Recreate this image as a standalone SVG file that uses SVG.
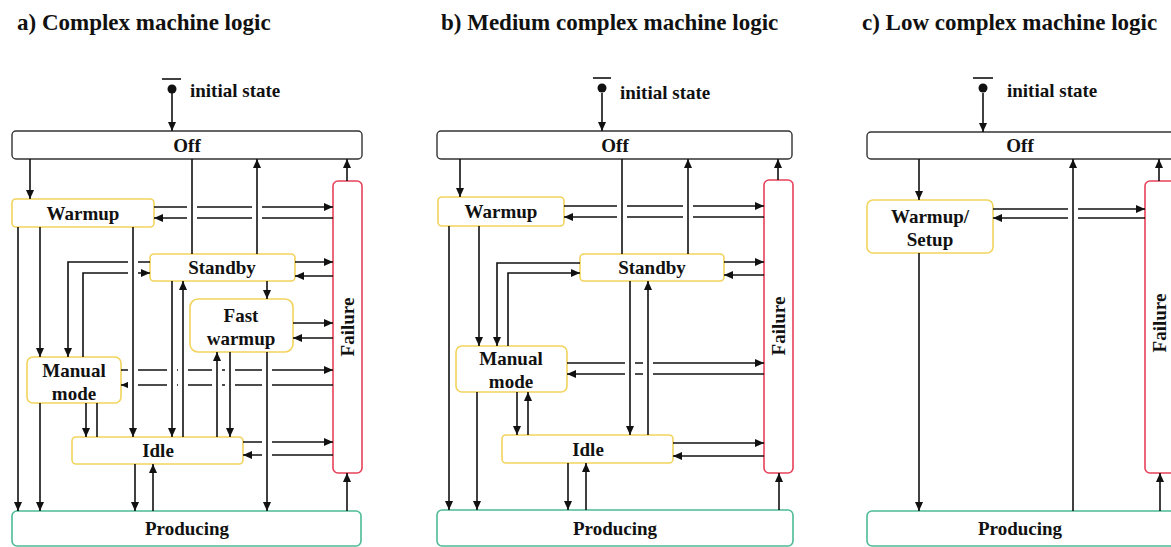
<svg xmlns="http://www.w3.org/2000/svg" width="1171" height="547" viewBox="0 0 1171 547">
<style>
text{font-family:"Liberation Serif","Times New Roman",serif;font-weight:bold;fill:#111}
.title{font-size:23px}
.lbl{font-size:19px;text-anchor:middle}
.init{font-size:19px}
.off{fill:#fff;stroke:#333;stroke-width:1.4}
.ylw{fill:#fff;stroke:#f2d35c;stroke-width:1.6}
.red{fill:#fff;stroke:#e8415a;stroke-width:1.6}
.grn{fill:#fff;stroke:#4dbb97;stroke-width:1.6}
.c{fill:none;stroke:#111;stroke-width:1.6}
.a{marker-end:url(#ah)}
.h{fill:none;stroke:#fff;stroke-width:10}
</style>
<defs>
<marker id="ah" markerUnits="userSpaceOnUse" markerWidth="10" markerHeight="9" refX="9" refY="4" orient="auto">
<path d="M0,0 L9,4 L0,8 z" fill="#111"/>
</marker>
</defs>
<rect width="1171" height="547" fill="#fff"/>
<text class="title" x="17" y="30">a) Complex machine logic</text>
<text class="title" x="441" y="30">b) Medium complex machine logic</text>
<text class="title" x="862" y="30">c) Low complex machine logic</text>

<!-- Panel a nodes -->
<g id="a-initial">
<line x1="162" y1="79" x2="181" y2="79" class="c"/>
<circle cx="172" cy="89" r="4.5" fill="#111"/>
<text class="init" x="190" y="97">initial state</text>
</g>
<g id="a-off"><rect class="off" x="12" y="131" width="350" height="28" rx="4"/><text class="lbl" x="187" y="152">Off</text></g>
<g id="a-warmup"><rect class="ylw" x="12" y="199" width="142" height="28" rx="4"/><text class="lbl" x="83" y="220">Warmup</text></g>
<g id="a-standby"><rect class="ylw" x="150" y="254" width="145" height="27" rx="4"/><text class="lbl" x="222" y="274">Standby</text></g>
<g id="a-fastwarmup"><rect class="ylw" x="190" y="299" width="103" height="53" rx="8"/><text class="lbl" x="241" y="322">Fast</text><text class="lbl" x="241" y="345">warmup</text></g>
<g id="a-manual"><rect class="ylw" x="27" y="357" width="94" height="46" rx="6"/><text class="lbl" x="74" y="377">Manual</text><text class="lbl" x="74" y="400">mode</text></g>
<g id="a-idle"><rect class="ylw" x="72" y="437" width="171" height="27" rx="4"/><text class="lbl" x="158" y="457">Idle</text></g>
<g id="a-producing"><rect class="grn" x="12" y="511" width="349" height="35" rx="5"/><text class="lbl" x="187" y="535">Producing</text></g>
<g id="a-failure"><rect class="red" x="333" y="181" width="29" height="292" rx="5"/><text class="lbl" transform="translate(354,327) rotate(-90)">Failure</text></g>

<!-- Panel b nodes -->
<g id="b-initial">
<line x1="593" y1="78" x2="611" y2="78" class="c"/>
<circle cx="602" cy="88" r="4.5" fill="#111"/>
<text class="init" x="620" y="99">initial state</text>
</g>
<g id="b-off"><rect class="off" x="437" y="131" width="355" height="28" rx="4"/><text class="lbl" x="615" y="152">Off</text></g>
<g id="b-warmup"><rect class="ylw" x="438" y="197" width="126" height="29" rx="4"/><text class="lbl" x="501" y="218">Warmup</text></g>
<g id="b-standby"><rect class="ylw" x="580" y="254" width="144" height="27" rx="4"/><text class="lbl" x="652" y="274">Standby</text></g>
<g id="b-manual"><rect class="ylw" x="456" y="346" width="111" height="46" rx="6"/><text class="lbl" x="511" y="365">Manual</text><text class="lbl" x="511" y="388">mode</text></g>
<g id="b-idle"><rect class="ylw" x="502" y="435" width="171" height="28" rx="4"/><text class="lbl" x="588" y="456">Idle</text></g>
<g id="b-producing"><rect class="grn" x="437" y="510" width="356" height="36" rx="5"/><text class="lbl" x="615" y="535">Producing</text></g>
<g id="b-failure"><rect class="red" x="764" y="180" width="29" height="293" rx="5"/><text class="lbl" transform="translate(785,326) rotate(-90)">Failure</text></g>

<!-- Panel c nodes -->
<g id="c-initial">
<line x1="973" y1="78" x2="993" y2="78" class="c"/>
<circle cx="983" cy="88" r="4.5" fill="#111"/>
<text class="init" x="1007" y="97">initial state</text>
</g>
<g id="c-off"><rect class="off" x="867" y="132" width="320" height="27" rx="4"/><text class="lbl" x="1020" y="152">Off</text></g>
<g id="c-warmup"><rect class="ylw" x="867" y="200" width="126" height="53" rx="6"/><text class="lbl" x="930" y="223">Warmup/</text><text class="lbl" x="930" y="246">Setup</text></g>
<g id="c-producing"><rect class="grn" x="867" y="511" width="320" height="35" rx="5"/><text class="lbl" x="1020" y="535">Producing</text></g>
<g id="c-failure"><rect class="red" x="1145" y="181" width="40" height="292" rx="5"/><text class="lbl" transform="translate(1166,323) rotate(-90)">Failure</text></g>

<g id="connectors">
<!-- panel a horizontals -->
<path class="c a" d="M154,207 H333"/>
<path class="c a" d="M333,218 H154"/>
<path class="c a" d="M295,262 H333"/>
<path class="c a" d="M333,276 H295"/>
<path class="c a" d="M293,323 H333"/>
<path class="c a" d="M333,338 H293"/>
<path class="c a" d="M121,370 H333"/>
<path class="c a" d="M333,385 H121"/>
<path class="c a" d="M243,442 H333"/>
<path class="c a" d="M333,455 H243"/>
<path class="c a" d="M150,262 H68 V357"/>
<path class="c a" d="M83,357 V273 H150"/>
<!-- panel a hops -->
<path class="h" d="M133,231 V433 M172,285 V433 M183,285 V433 M192,163 V250 M257,163 V250 M217,356 V433 M230,356 V433 M267,356 V507"/>
<!-- panel a verticals -->
<path class="c a" d="M172,93 V131"/>
<path class="c a" d="M30,159 V199"/>
<path class="c" d="M192,159 V254"/>
<path class="c a" d="M257,254 V159"/>
<path class="c a" d="M347,181 V159"/>
<path class="c a" d="M18,227 V511"/>
<path class="c a" d="M40,227 V357"/>
<path class="c a" d="M40,403 V511"/>
<path class="c a" d="M133,227 V437"/>
<path class="c a" d="M86,403 V437"/>
<path class="c" d="M97,437 V403"/>
<path class="c a" d="M172,281 V437"/>
<path class="c a" d="M183,437 V281"/>
<path class="c a" d="M267,281 V299"/>
<path class="c a" d="M267,352 V511"/>
<path class="c a" d="M217,437 V352"/>
<path class="c a" d="M230,352 V437"/>
<path class="c a" d="M135,464 V511"/>
<path class="c a" d="M153,511 V464"/>
<path class="c a" d="M347,511 V473"/>

<!-- panel b horizontals -->
<path class="c a" d="M564,206 H764"/>
<path class="c a" d="M764,217 H564"/>
<path class="c a" d="M724,262 H764"/>
<path class="c a" d="M764,275 H724"/>
<path class="c a" d="M567,363 H764"/>
<path class="c a" d="M764,374 H567"/>
<path class="c a" d="M673,443 H764"/>
<path class="c a" d="M764,456 H673"/>
<path class="c a" d="M580,263 H497 V346"/>
<path class="c a" d="M508,346 V273 H580"/>
<!-- panel b hops -->
<path class="h" d="M622,163 V250 M688,163 V250 M630,285 V431 M648,285 V431"/>
<!-- panel b verticals -->
<path class="c a" d="M602,93 V131"/>
<path class="c a" d="M460,159 V197"/>
<path class="c" d="M622,159 V254"/>
<path class="c a" d="M688,254 V159"/>
<path class="c a" d="M778,180 V159"/>
<path class="c a" d="M449,226 V510"/>
<path class="c a" d="M479,226 V346"/>
<path class="c a" d="M477,392 V510"/>
<path class="c a" d="M517,392 V435"/>
<path class="c a" d="M528,435 V392"/>
<path class="c a" d="M630,281 V435"/>
<path class="c a" d="M648,435 V281"/>
<path class="c a" d="M568,463 V510"/>
<path class="c a" d="M586,510 V463"/>
<path class="c a" d="M779,510 V473"/>

<!-- panel c -->
<path class="c a" d="M993,209 H1145"/>
<path class="c a" d="M1145,218 H993"/>
<path class="h" d="M1073,163 V506"/>
<path class="c a" d="M983,93 V132"/>
<path class="c a" d="M919,159 V200"/>
<path class="c a" d="M1073,511 V159"/>
<path class="c a" d="M1159,181 V159"/>
<path class="c a" d="M919,253 V511"/>
<path class="c a" d="M1160,511 V473"/>
</g>
</svg>
